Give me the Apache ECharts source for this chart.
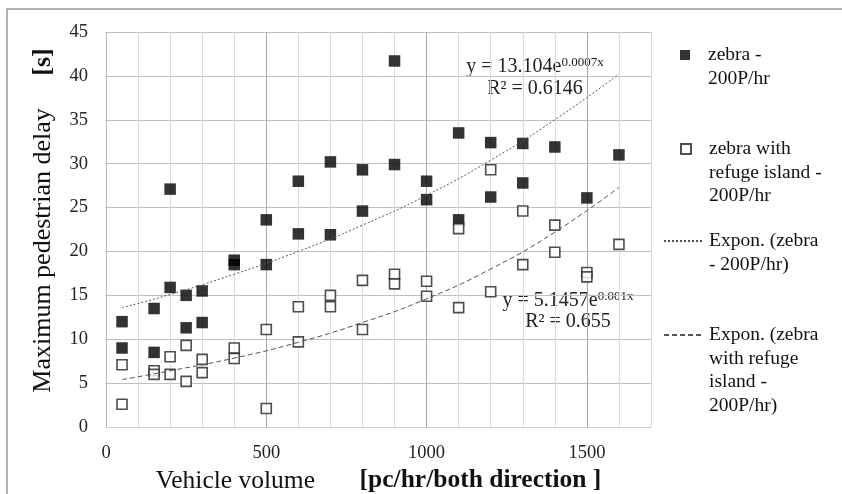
<!DOCTYPE html>
<html>
<head>
<meta charset="utf-8">
<script src="https://cdn.jsdelivr.net/npm/echarts@6/dist/echarts.min.js"></script>
<style>
  html, body { margin: 0; padding: 0; background: #fff; }
  #chart { width: 842px; height: 494px; }
</style>
</head>
<body>
<div id="chart"></div>
<script>
// zebra crossing - 200P/hr (filled squares)
const zebraVol = [50, 50, 150, 150, 200, 200, 250, 250, 300, 300, 400, 400, 500, 500, 600, 600, 700, 700,
  800, 800, 900, 900, 1000, 1000, 1100, 1100, 1200, 1200, 1300, 1300, 1400, 1500, 1600]
const zebraDelay = [12.0, 9.0, 13.5, 8.5, 27.1, 15.9, 15.0, 11.3, 15.5, 11.9, 19.0, 18.5, 23.6, 18.5, 28.0, 22.0, 30.2, 21.9,
  29.3, 24.6, 41.7, 29.9, 28.0, 25.9, 33.5, 23.6, 32.4, 26.2, 32.3, 27.8, 31.9, 26.1, 31.0]

// zebra with refuge island - 200P/hr (hollow squares)
const islandVol = [50, 50, 150, 150, 200, 200, 250, 250, 300, 300, 400, 400, 500, 500, 600, 600, 700, 700,
  800, 800, 900, 900, 1000, 1000, 1100, 1100, 1200, 1200, 1300, 1300, 1400, 1400, 1500, 1500, 1600]
const islandDelay = [7.1, 2.6, 6.4, 6.0, 8.0, 6.0, 9.3, 5.2, 7.7, 6.2, 9.0, 7.8, 11.1, 2.1, 13.7, 9.7, 15.0, 13.7,
  16.7, 11.1, 17.4, 16.3, 16.6, 14.9, 22.6, 13.6, 29.3, 15.4, 24.6, 18.5, 23.0, 19.9, 17.6, 17.1, 20.8]

// trendlines
const trendVol = [50, 200, 400, 600, 800, 1000, 1200, 1400, 1600]
const zebraTrend = [13.6, 15.1, 17.4, 20.0, 23.0, 26.4, 30.4, 35.0, 40.2]
const islandTrend = [5.4, 6.4, 7.85, 9.65, 11.9, 14.6, 18.0, 22.2, 27.3]

const xTicks = [0, 500, 1000, 1500]

const names = [
  'zebra - 200P/hr',
  'zebra with refuge island - 200P/hr',
  'Expon. (zebra - 200P/hr)',
  'Expon. (zebra with refuge island - 200P/hr)'
]
const legendLines = {
  'zebra - 200P/hr': ['zebra -', '200P/hr'],
  'zebra with refuge island - 200P/hr': ['zebra with', 'refuge island -', '200P/hr'],
  'Expon. (zebra - 200P/hr)': ['Expon. (zebra', '- 200P/hr)'],
  'Expon. (zebra with refuge island - 200P/hr)': ['Expon. (zebra', 'with refuge', 'island -', '200P/hr)']
}

const zip = (xs, ys) => xs.map((x, i) => [x, ys[i]])

const serif = "'Liberation Serif', 'Times New Roman', serif"
const LH = 23.5

// one legend block per entry; blank lines in front keep the icon level with the first text line
function legendBlock(name, iconCenter, left, w, padL, hideDot) {
  const lines = legendLines[name]
  const n = lines.length
  const h = (2 * n - 1) * LH
  const blk = {
    data: [name],
    orient: 'vertical',
    left: left,
    top: iconCenter - h / 2,
    padding: 0,
    itemWidth: w,
    itemHeight: 10,
    selectedMode: false,
    formatter: () => '\n'.repeat(n - 1) + lines.join('\n'),
    textStyle: {
      fontFamily: serif,
      fontSize: 19.5,
      lineHeight: LH,
      color: '#111',
      padding: [0, 0, 0, padL]
    }
  }
  if (hideDot) blk.itemStyle = { opacity: 0 }
  return blk
}

let myChart = echarts.init(document.getElementById('chart'))

myChart.setOption({
  animation: false,
  backgroundColor: '#fff',
  grid: {
    left: 106,
    top: 32,
    width: 545,
    height: 395,
    containLabel: false,
    outerBoundsMode: 'none'
  },
  legend: [
    legendBlock(names[0], 55, 680, 10, 13, false),
    legendBlock(names[1], 149, 680, 10, 13, false),
    legendBlock(names[2], 241, 663, 40, 0, true),
    legendBlock(names[3], 335, 663, 40, 0, true)
  ],
  xAxis: {
    type: 'value',
    min: 0,
    max: 1700,
    interval: 100,
    name: '{a|Vehicle volume}{a|       }{b|[pc/hr/both direction ]}',
    nameLocation: 'middle',
    nameGap: 33,
    nameTextStyle: {
      rich: {
        a: { fontFamily: serif, fontSize: 25.5, color: '#111' },
        b: { fontFamily: serif, fontSize: 25.5, fontWeight: 'bold', color: '#111' }
      }
    },
    axisLine: { show: true, lineStyle: { color: '#d0d0d0', width: 1 } },
    axisTick: { show: false },
    axisLabel: {
      margin: 17,
      fontFamily: serif,
      fontSize: 18.5,
      color: '#222',
      formatter: (v) => (xTicks.indexOf(v) >= 0 ? String(v) : '')
    },
    splitLine: {
      show: true,
      lineStyle: {
        color: ['#a8a8a8', '#dcdcdc', '#dcdcdc', '#dcdcdc', '#dcdcdc'],
        width: 1
      }
    }
  },
  yAxis: {
    type: 'value',
    min: 0,
    max: 45,
    interval: 5,
    name: '{a|Maximum pedestrian delay}{a|     }{b|[s]}',
    nameLocation: 'middle',
    nameGap: 50,
    nameTextStyle: {
      padding: [0, 0, 0, 18],
      rich: {
        a: { fontFamily: serif, fontSize: 26, color: '#111' },
        b: { fontFamily: serif, fontSize: 26, fontWeight: 'bold', color: '#111' }
      }
    },
    axisLine: { show: true, lineStyle: { color: '#b4b4b4', width: 1 } },
    axisTick: { show: false },
    axisLabel: {
      margin: 18,
      fontFamily: serif,
      fontSize: 18.5,
      color: '#222'
    },
    splitLine: { show: true, lineStyle: { color: '#c0c0c0', width: 1 } }
  },
  graphic: [
    {
      type: 'rect',
      shape: { x: 7, y: 9, width: 900, height: 600 },
      style: { fill: 'none', stroke: '#9a9a9a', lineWidth: 1.5 },
      silent: true
    },
    {
      type: 'text',
      x: 535,
      y: 78,
      style: {
        text: '{m|y = 13.104e}{s|0.0007x}\n{m|R² = 0.6146}',
        align: 'center',
        verticalAlign: 'middle',
        rich: {
          m: { fontFamily: serif, fontSize: 20, lineHeight: 22, fill: '#222', color: '#222' },
          s: { fontFamily: serif, fontSize: 13, lineHeight: 22, verticalAlign: 'top', fill: '#222', color: '#222' }
        }
      }
    },
    {
      type: 'text',
      x: 568,
      y: 311,
      style: {
        text: '{m|y = 5.1457e}{s|0.001x}\n{m|R² = 0.655}',
        align: 'center',
        verticalAlign: 'middle',
        rich: {
          m: { fontFamily: serif, fontSize: 20, lineHeight: 21, fill: '#222', color: '#222' },
          s: { fontFamily: serif, fontSize: 13, lineHeight: 21, verticalAlign: 'top', fill: '#222', color: '#222' }
        }
      }
    }
  ],
  series: [
    {
      name: names[0],
      type: 'scatter',
      symbol: 'rect',
      symbolSize: 11.5,
      itemStyle: { color: '#000' },
      data: zip(zebraVol, zebraDelay)
    },
    {
      name: names[1],
      type: 'scatter',
      symbol: 'rect',
      symbolSize: 10,
      itemStyle: { color: '#fff', borderColor: '#222', borderWidth: 1.6 },
      data: zip(islandVol, islandDelay)
    },
    {
      name: names[2],
      type: 'line',
      smooth: true,
      symbol: 'none',
      showSymbol: false,
      z: 3,
      itemStyle: { color: '#555' },
      lineStyle: { color: '#555', width: 1, type: [2, 2] },
      data: zip(trendVol, zebraTrend)
    },
    {
      name: names[3],
      type: 'line',
      smooth: true,
      symbol: 'none',
      showSymbol: false,
      z: 3,
      itemStyle: { color: '#555' },
      lineStyle: { color: '#555', width: 1, type: [5, 3] },
      data: zip(trendVol, islandTrend)
    }
  ]
})
</script>
</body>
</html>
